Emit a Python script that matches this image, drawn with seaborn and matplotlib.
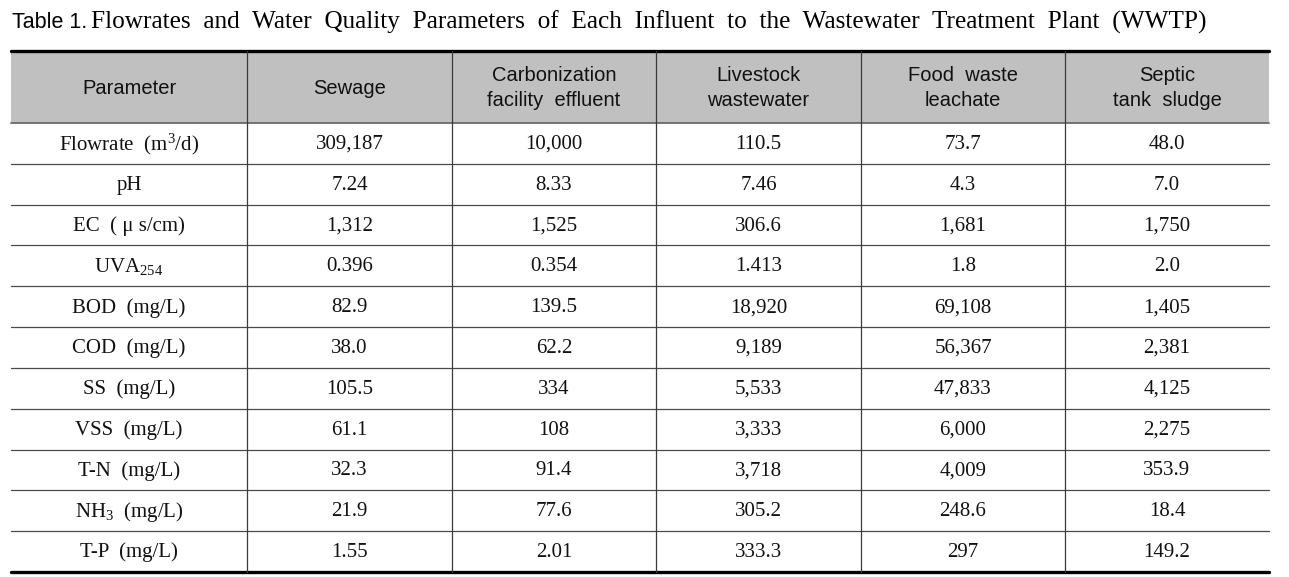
import matplotlib
matplotlib.use("Agg")
import matplotlib.pyplot as plt
import seaborn as sns
from matplotlib.patches import Rectangle

# table content
title_label = "Table 1."
title_text = ("Flowrates  and  Water  Quality  Parameters  of  Each  Influent  to  the  "
              "Wastewater  Treatment  Plant  (WWTP)")

headers = ["Parameter", "Sewage", "Carbonization\nfacility  effluent",
           "Livestock\nwastewater", "Food  waste\nleachate", "Septic\ntank  sludge"]

parameters = ["Flowrate  (m$^3$/d)", "pH", "EC  ( μ s/cm)", "UVA$_{254}$",
              "BOD  (mg/L)", "COD  (mg/L)", "SS  (mg/L)", "VSS  (mg/L)",
              "T-N  (mg/L)", "NH$_3$  (mg/L)", "T-P  (mg/L)"]

sewage = ["309,187", "7.24", "1,312", "0.396", "82.9", "38.0", "105.5", "61.1", "32.3", "21.9", "1.55"]
carbonization = ["10,000", "8.33", "1,525", "0.354", "139.5", "62.2", "334", "108", "91.4", "77.6", "2.01"]
livestock = ["110.5", "7.46", "306.6", "1.413", "18,920", "9,189", "5,533", "3,333", "3,718", "305.2", "333.3"]
food_waste = ["73.7", "4.3", "1,681", "1.8", "69,108", "56,367", "47,833", "6,000", "4,009", "248.6", "297"]
septic = ["48.0", "7.0", "1,750", "2.0", "1,405", "2,381", "4,125", "2,275", "353.9", "18.4", "149.2"]

columns = [parameters, sewage, carbonization, livestock, food_waste, septic]

sns.set_theme(style="white")
plt.rcParams["mathtext.fontset"] = "custom"
plt.rcParams["mathtext.rm"] = "Liberation Serif"
plt.rcParams["mathtext.it"] = "Liberation Serif:italic"

W, H = 1289, 577
fig = plt.figure(figsize=(W / 100, H / 100), dpi=100)
ax = fig.add_axes([0, 0, 1, 1])
ax.set_xlim(0, W)
ax.set_ylim(H, 0)
ax.axis("off")

# layout (pixels)
col_edges = [11, 247, 452, 656, 861, 1065, 1269]
top, head_bottom, bottom = 51, 123, 572
n_rows = len(parameters)
row_h = (bottom - head_bottom) / n_rows

# header band
ax.add_patch(Rectangle((col_edges[0], top), col_edges[-1] - col_edges[0],
                       head_bottom - top, facecolor="#c0c0c0", edgecolor="none"))

# horizontal rules
for i in range(1, n_rows):
    y = head_bottom + i * row_h
    ax.plot([col_edges[0], col_edges[-1]], [y, y], color="#4a4a4a", lw=0.9)
ax.plot([col_edges[0], col_edges[-1]], [head_bottom, head_bottom], color="#6a6a6a", lw=1.3)
ax.plot([col_edges[0], col_edges[-1]], [top, top], color="black", lw=2.4)
ax.plot([col_edges[0], col_edges[-1]], [bottom, bottom], color="black", lw=2.4)

# vertical rules
for x in col_edges[1:-1]:
    ax.plot([x, x], [top, bottom], color="#3a3a3a", lw=0.9)

# header text
for j, h in enumerate(headers):
    cx = (col_edges[j] + col_edges[j + 1]) / 2
    ax.text(cx, (top + head_bottom) / 2 + 1, h, ha="center", va="center",
            family="Liberation Sans", fontsize=14.5, linespacing=1.4, color="#111111")

# body text
for j, col in enumerate(columns):
    cx = (col_edges[j] + col_edges[j + 1]) / 2
    for i, val in enumerate(col):
        cy = head_bottom + (i + 0.5) * row_h + 1
        ax.text(cx, cy, val, ha="center", va="center",
                family="Liberation Serif", fontsize=15, color="#111111")

# title: sans label followed by serif caption
t1 = ax.text(12, 22, title_label, ha="left", va="center",
             family="Liberation Sans", fontsize=15.5, color="black")
fig.canvas.draw()
bb = t1.get_window_extent(renderer=fig.canvas.get_renderer())
ax.text(bb.x1 + 4, 22, title_text, ha="left", va="center",
        family="Liberation Serif", fontsize=18.2, color="black")

fig.savefig("out.png", dpi=100)
